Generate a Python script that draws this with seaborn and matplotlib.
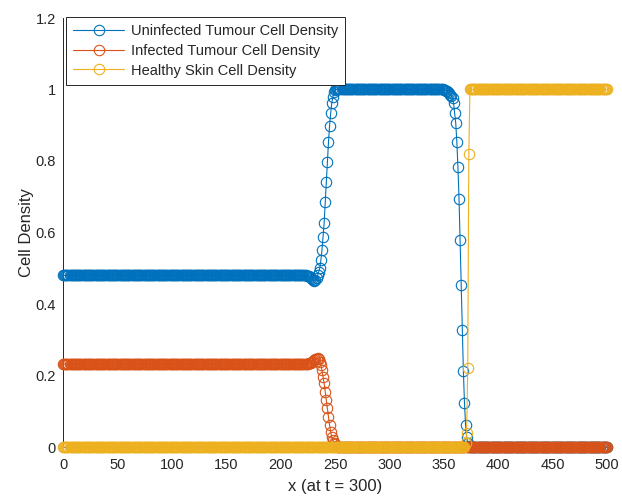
import numpy as np
import pandas as pd
import matplotlib
matplotlib.use("Agg")
import matplotlib.pyplot as plt
import seaborn as sns

# ---------------- data ----------------
x_grid = np.arange(0, 501)          # spatial grid, step 1

series_names = ["Uninfected Tumour Cell Density",
                "Infected Tumour Cell Density",
                "Healthy Skin Cell Density"]
series_colors = ["#0072BD", "#D95319", "#EDB120"]

# Uninfected tumour cells
blue_left_level = 0.48
blue_rise_start = 224
blue_rise = [0.479, 0.478, 0.477, 0.475, 0.472, 0.469, 0.466, 0.465, 0.467, 0.472,
             0.48, 0.49, 0.50, 0.522, 0.55, 0.587, 0.626, 0.684, 0.74, 0.796,
             0.852, 0.899, 0.933, 0.961, 0.978, 0.992, 0.998]
blue_mid_level = 1.0
blue_fall_start = 350
blue_fall = [0.999, 0.998, 0.997, 0.995, 0.993, 0.99, 0.986, 0.983, 0.975, 0.961,
             0.933, 0.905, 0.852, 0.782, 0.693, 0.578, 0.453, 0.327, 0.212, 0.123,
             0.061, 0.028, 0.01, 0.003]
blue_right_level = 0.0

# Infected tumour cells
orange_left_level = 0.232
orange_bump_start = 225
orange_bump = [0.233, 0.234, 0.235, 0.236, 0.238, 0.24, 0.242, 0.245, 0.247, 0.248,
               0.245, 0.237, 0.229, 0.215, 0.196, 0.178, 0.154, 0.131, 0.108, 0.085,
               0.061, 0.043, 0.029, 0.02, 0.012, 0.007, 0.004, 0.002]
orange_right_level = 0.0

# Healthy skin cells
yellow_left_level = 0.0
yellow_rise_start = 370
yellow_rise = [0.01, 0.04, 0.22, 0.82]
yellow_right_level = 1.0

x_ticks = [0, 50, 100, 150, 200, 250, 300, 350, 400, 450, 500]
y_ticks = [0, 0.2, 0.4, 0.6, 0.8, 1.0, 1.2]
y_tick_labels = ["0", "0.2", "0.4", "0.6", "0.8", "1", "1.2"]


def piecewise(levels_and_segments):
    """Assemble a profile from plateau levels and explicit transition values."""
    out = []
    for kind, a, b in levels_and_segments:
        if kind == "level":
            out.extend([a] * b)
        else:
            out.extend(a)
    return np.array(out, dtype=float)


n = len(x_grid)
blue = piecewise([
    ("level", blue_left_level, blue_rise_start),
    ("seg", blue_rise, None),
    ("level", blue_mid_level, blue_fall_start - blue_rise_start - len(blue_rise)),
    ("seg", blue_fall, None),
    ("level", blue_right_level, n - blue_fall_start - len(blue_fall)),
])
orange = piecewise([
    ("level", orange_left_level, orange_bump_start),
    ("seg", orange_bump, None),
    ("level", orange_right_level, n - orange_bump_start - len(orange_bump)),
])
yellow = piecewise([
    ("level", yellow_left_level, yellow_rise_start),
    ("seg", yellow_rise, None),
    ("level", yellow_right_level, n - yellow_rise_start - len(yellow_rise)),
])

# ---------------- plotting ----------------
sns.set_style("white")
plt.rcParams["font.family"] = ["Liberation Sans", "DejaVu Sans"]
dark = "#262626"

fig = plt.figure(figsize=(6.22, 4.98), dpi=100)
ax = fig.add_axes([63 / 622, 51 / 498, (607 - 63) / 622, (447 - 18) / 498])

for name, col, vals in zip(series_names, series_colors, [blue, orange, yellow]):
    df = pd.DataFrame({"x": x_grid, "y": vals})
    sns.lineplot(data=df, x="x", y="y", ax=ax, color=col, label=name,
                 marker="o", markersize=7.5, markerfacecolor="none",
                 markeredgecolor=col, markeredgewidth=0.8, linewidth=0.8,
                 estimator=None, sort=False)

for ln in ax.get_lines():
    ln.set_clip_on(False)

ax.set_xlim(0, 500)
ax.set_ylim(0, 1.2)
ax.set_xticks(x_ticks)
ax.set_yticks(y_ticks)
ax.set_yticklabels(y_tick_labels)
ax.tick_params(direction="in", length=4, width=0.6, colors=dark,
               labelsize=10.5, pad=5)
ax.tick_params(axis="x", pad=8)
for s in ["top", "right"]:
    ax.spines[s].set_visible(False)
for s in ["left", "bottom"]:
    ax.spines[s].set_color(dark)
    ax.spines[s].set_linewidth(0.7)
    ax.spines[s].set_zorder(0.5)

ax.set_xlabel("x (at t = 300)", fontsize=12, color=dark, labelpad=5)
ax.set_ylabel("Cell Density", fontsize=12, color=dark, labelpad=1)

leg = ax.legend(loc="upper left", bbox_to_anchor=(0.005, 1.002), fontsize=10.5,
                frameon=True, fancybox=False, framealpha=1, edgecolor=dark,
                handlelength=3.5, handletextpad=0.45, labelspacing=0.38,
                borderpad=0.5, borderaxespad=0.0)
leg.get_frame().set_linewidth(0.7)
leg.set_zorder(10)
for t in leg.get_texts():
    t.set_color(dark)

fig.savefig("out.png", dpi=100)
